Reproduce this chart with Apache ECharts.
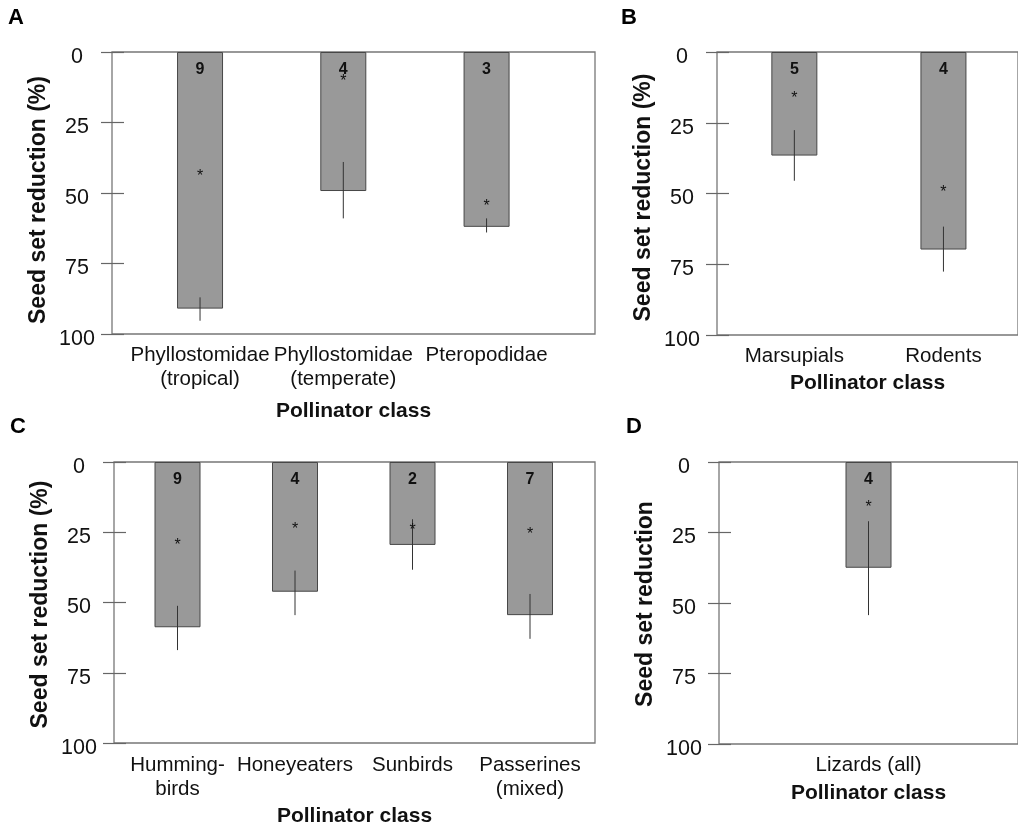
<!DOCTYPE html>
<html>
<head>
<meta charset="utf-8">
<script src="https://cdn.jsdelivr.net/npm/echarts@6/dist/echarts.min.js"></script>
<style>html,body{margin:0;padding:0;background:#fff}#c{width:1018px;height:828px}</style>
</head>
<body>
<div id="c"></div>
<script>
// ---- data ----
const yTicks = [0, 25, 50, 75, 100];
const catsA = ['Phyllostomidae\n(tropical)', 'Phyllostomidae\n(temperate)', 'Pteropodidae'];
const meanA = [91, 49.3, 62];
const lowA = [87, 39, 59];
const highA = [95.3, 59, 64];
const starA = [42.6, 9.1, 53.3];
const nA = [9, 4, 3];

const catsB = ['Marsupials', 'Rodents'];
const meanB = [36.6, 69.8];
const lowB = [27.6, 61.7];
const highB = [45.5, 77.6];
const starB = [14.9, 48.1];
const nB = [5, 4];

const catsC = ['Humming-\nbirds', 'Honeyeaters', 'Sunbirds', 'Passerines\n(mixed)'];
const meanC = [58.6, 46.0, 29.4, 54.3];
const lowC = [51.0, 38.5, 20.3, 46.8];
const highC = [66.7, 54.3, 38.2, 62.7];
const starC = [28.3, 22.5, 22.8, 24.2];
const nC = [9, 4, 2, 7];

const catsD = ['Lizards (all)'];
const meanD = [37.5];
const lowD = [21.0];
const highD = [54.3];
const starD = [14.6];
const nD = [4];

// ---- layout ----
const FONT = 'Liberation Sans, Arial, sans-serif';
const panels = [
  {letter: 'A', lx: 8, ly: 7, cats: catsA, mean: meanA, low: lowA, high: highA, star: starA, n: nA,
   frame: {left: 112, top: 52, width: 483, height: 282}, data: {left: 128.4, top: 52, width: 429.8, height: 282},
   yName: 'Seed set reduction (%)', yShift: 14, xGap: 67, labelsOnFrame: false},
  {letter: 'B', lx: 621, ly: 7, cats: catsB, mean: meanB, low: lowB, high: highB, star: starB, n: nB,
   frame: {left: 717, top: 52, width: 320, height: 283}, data: {left: 719.8, top: 52, width: 302, height: 283},
   yName: 'Seed set reduction (%)', yShift: 8, xGap: 38, labelsOnFrame: false},
  {letter: 'C', lx: 10, ly: 416, cats: catsC, mean: meanC, low: lowC, high: highC, star: starC, n: nC,
   frame: {left: 114, top: 462, width: 481, height: 282}, data: {left: 118.75, top: 462, width: 470, height: 282},
   yName: 'Seed set reduction (%)', yShift: 4, xGap: 63, labelsOnFrame: false},
  {letter: 'D', lx: 626, ly: 416, cats: catsD, mean: meanD, low: lowD, high: highD, star: starD, n: nD,
   frame: {left: 719, top: 462, width: 324, height: 282}, data: {left: 719, top: 462, width: 301, height: 282},
   yName: 'Seed set reduction', yShift: 2, xGap: 39, labelsOnFrame: true}
];

const option = {
  animation: false,
  backgroundColor: '#fff',
  textStyle: {fontFamily: FONT},
  title: [], grid: [], xAxis: [], yAxis: [], series: []
};

const catLabel = {show: true, fontSize: 20.5, lineHeight: 24, color: '#111', fontFamily: FONT, margin: 9, interval: 0};

panels.forEach((p, k) => {
  const gF = 2 * k, gD = 2 * k + 1;
  option.title.push({text: p.letter, left: p.lx, top: p.ly, padding: 0,
    textStyle: {fontSize: 22, fontWeight: 'bold', color: '#000', fontFamily: FONT}});
  option.grid.push(Object.assign({show: true, borderColor: '#777', borderWidth: 1.3, backgroundColor: 'transparent'}, p.frame));
  option.grid.push(Object.assign({show: false}, p.data));

  // frame axes
  option.xAxis.push({type: 'category', gridIndex: gF, data: p.labelsOnFrame ? p.cats : p.cats.map(() => ''),
    axisLine: {show: false}, axisTick: {show: false},
    axisLabel: p.labelsOnFrame ? catLabel : {show: false},
    name: 'Pollinator class', nameLocation: 'middle', nameGap: p.xGap,
    nameTextStyle: {fontSize: 21, fontWeight: 'bold', color: '#111', fontFamily: FONT}});
  option.yAxis.push({type: 'value', gridIndex: gF, position: 'left', inverse: true, min: 0, max: 100, interval: 25,
    axisLine: {show: false}, splitLine: {show: false},
    axisTick: {show: true, inside: false, length: 11, lineStyle: {color: '#666', width: 1.2}},
    axisLabel: {show: true, fontSize: 21.5, color: '#111', align: 'center', verticalAlign: 'top', lineHeight: 10, margin: 35,
      fontFamily: FONT, formatter: v => yTicks.includes(v) ? String(v) : ''},
    name: p.yName, nameLocation: 'middle', nameRotate: 90, nameGap: 62,
    nameTextStyle: {fontSize: 23, fontWeight: 'bold', color: '#111', fontFamily: FONT, padding: [0, p.yShift, 0, 0]}});
  option.yAxis.push({type: 'value', gridIndex: gF, position: 'left', offset: 0, inverse: true, min: 0, max: 100, interval: 25,
    axisLine: {show: false}, splitLine: {show: false}, axisLabel: {show: false},
    axisTick: {show: true, inside: true, length: 12, lineStyle: {color: '#666', width: 1.2}}});

  // data axes
  const xD = option.xAxis.length;
  option.xAxis.push({type: 'category', gridIndex: gD, data: p.cats,
    axisLine: {show: false}, axisTick: {show: false},
    axisLabel: p.labelsOnFrame ? {show: false} : catLabel});
  const yD = option.yAxis.length;
  option.yAxis.push({type: 'value', gridIndex: gD, inverse: true, min: 0, max: 100, show: false});

  option.series.push({type: 'bar', xAxisIndex: xD, yAxisIndex: yD, data: p.mean, barWidth: 46,
    itemStyle: {color: '#999999', borderColor: '#474747', borderWidth: 1},
    label: {show: true, position: 'insideTop', distance: 10, fontSize: 16, fontWeight: 'bold', color: '#111',
      fontFamily: FONT, formatter: d => String(p.n[d.dataIndex])}});
  option.series.push({type: 'custom', xAxisIndex: xD, yAxisIndex: yD, z: 5,
    data: p.low.map((l, i) => [i, l, p.high[i]]),
    renderItem: (params, api) => {
      const a = api.coord([api.value(0), api.value(1)]);
      const b = api.coord([api.value(0), api.value(2)]);
      return {type: 'line', shape: {x1: a[0], y1: a[1], x2: b[0], y2: b[1]},
        style: {stroke: '#333', lineWidth: 1}};
    }});
  option.series.push({type: 'custom', xAxisIndex: xD, yAxisIndex: yD, z: 6,
    data: p.star.map((s, i) => [i, s]),
    renderItem: (params, api) => {
      const c = api.coord([api.value(0), api.value(1)]);
      return {type: 'text', x: c[0], y: c[1] + 4,
        style: {text: '*', fontSize: 16, fontFamily: FONT, fill: '#111', textAlign: 'center', textVerticalAlign: 'middle'}};
    }});
});

const chart = echarts.init(document.getElementById('c'), null, {renderer: 'canvas'});
chart.setOption(option);
</script>
</body>
</html>
